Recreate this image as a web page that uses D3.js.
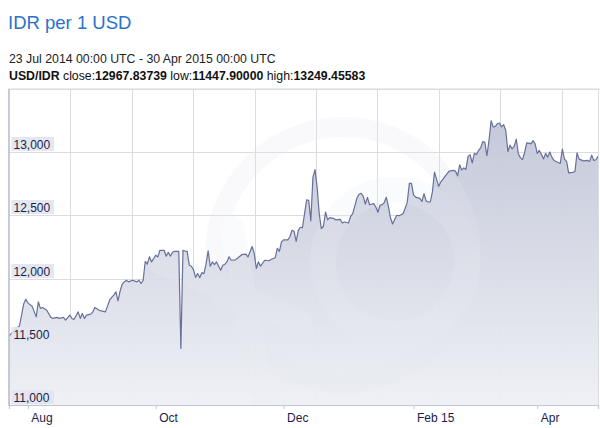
<!DOCTYPE html>
<html>
<head>
<meta charset="utf-8">
<script src="https://cdn.jsdelivr.net/npm/d3@7/dist/d3.min.js"></script>
<style>
  html, body { margin: 0; padding: 0; background: #fff; }
  svg { display: block; font-family: "Liberation Sans", Arial, Helvetica, sans-serif; }
</style>
</head>
<body>
<svg id="chart" width="600" height="428"></svg>
<script>
const dates = [
"2014-07-23","2014-07-26","2014-07-28","2014-07-29","2014-07-30","2014-07-31","2014-08-01","2014-08-03","2014-08-05","2014-08-06",
"2014-08-07","2014-08-08","2014-08-10","2014-08-12","2014-08-13","2014-08-15","2014-08-16","2014-08-18","2014-08-19","2014-08-21",
"2014-08-22","2014-08-23","2014-08-25","2014-08-26","2014-08-27","2014-08-28","2014-08-29","2014-08-31","2014-09-01","2014-09-02",
"2014-09-04","2014-09-05","2014-09-07","2014-09-08","2014-09-09","2014-09-10","2014-09-11","2014-09-12","2014-09-13","2014-09-14",
"2014-09-15","2014-09-16","2014-09-17","2014-09-18","2014-09-20","2014-09-22","2014-09-23","2014-09-24","2014-09-25","2014-09-26",
"2014-09-27","2014-09-28","2014-09-29","2014-10-01","2014-10-02","2014-10-03","2014-10-05","2014-10-06","2014-10-07","2014-10-08",
"2014-10-09","2014-10-10","2014-10-12","2014-10-13","2014-10-14","2014-10-15","2014-10-16","2014-10-17","2014-10-18","2014-10-19",
"2014-10-20","2014-10-21","2014-10-22","2014-10-23","2014-10-24","2014-10-25","2014-10-26","2014-10-27","2014-10-28","2014-10-29",
"2014-10-30","2014-11-01","2014-11-02","2014-11-03","2014-11-04","2014-11-05","2014-11-06","2014-11-08","2014-11-09","2014-11-11",
"2014-11-13","2014-11-14","2014-11-16","2014-11-17","2014-11-18","2014-11-19","2014-11-20","2014-11-22","2014-11-24","2014-11-25",
"2014-11-27","2014-11-28","2014-11-29","2014-11-30","2014-12-01","2014-12-03","2014-12-04","2014-12-05","2014-12-06","2014-12-07",
"2014-12-08","2014-12-09","2014-12-10","2014-12-11","2014-12-12","2014-12-13","2014-12-14","2014-12-15","2014-12-16","2014-12-17",
"2014-12-18","2014-12-19","2014-12-20","2014-12-21","2014-12-22","2014-12-23","2014-12-25","2014-12-26","2014-12-28","2014-12-29",
"2014-12-30","2015-01-01","2015-01-02","2015-01-03","2015-01-05","2015-01-06","2015-01-07","2015-01-08","2015-01-09","2015-01-10",
"2015-01-11","2015-01-13","2015-01-14","2015-01-15","2015-01-16","2015-01-17","2015-01-18","2015-01-19","2015-01-20","2015-01-21",
"2015-01-22","2015-01-23","2015-01-24","2015-01-25","2015-01-27","2015-01-28","2015-01-29","2015-01-30","2015-01-31","2015-02-01",
"2015-02-02","2015-02-04","2015-02-05","2015-02-06","2015-02-07","2015-02-08","2015-02-09","2015-02-10","2015-02-11","2015-02-12",
"2015-02-13","2015-02-14","2015-02-15","2015-02-16","2015-02-18","2015-02-20","2015-02-21","2015-02-22","2015-02-23","2015-02-24",
"2015-02-25","2015-02-26","2015-02-27","2015-02-28","2015-03-01","2015-03-02","2015-03-03","2015-03-04","2015-03-05","2015-03-06",
"2015-03-07","2015-03-08","2015-03-09","2015-03-10","2015-03-11","2015-03-12","2015-03-13","2015-03-14","2015-03-15","2015-03-16",
"2015-03-17","2015-03-18","2015-03-19","2015-03-20","2015-03-21","2015-03-22","2015-03-23","2015-03-24","2015-03-25","2015-03-26",
"2015-03-27","2015-03-28","2015-03-29","2015-03-30","2015-03-31","2015-04-01","2015-04-02","2015-04-03","2015-04-04","2015-04-05",
"2015-04-06","2015-04-07","2015-04-08","2015-04-09","2015-04-11","2015-04-12","2015-04-13","2015-04-14","2015-04-15","2015-04-16",
"2015-04-18","2015-04-19","2015-04-20","2015-04-21","2015-04-23","2015-04-25","2015-04-26","2015-04-27","2015-04-28","2015-04-29",
"2015-04-30"
];
const values = [
11545,11600,11625,11711,11800,11837,11808,11782,11697,11816,
11764,11772,11750,11693,11685,11693,11685,11693,11671,11711,
11685,11677,11737,11685,11724,11685,11711,11719,11737,11772,
11750,11745,11737,11782,11829,11851,11869,11895,11824,11900,
11955,11974,11987,11974,11987,11974,11987,11961,11987,12137,
12114,12173,12132,12185,12171,12224,12224,12177,12208,12177,
12208,12216,12216,11448,12224,12218,12215,12106,12098,12071,
12009,12040,12007,12047,12039,12114,12220,12098,12132,12110,
12132,12066,12106,12114,12134,12173,12145,12148,12161,12189,
12193,12171,12254,12198,12080,12132,12098,12145,12141,12151,
12165,12240,12216,12290,12307,12307,12331,12382,12374,12295,
12382,12406,12402,12514,12623,12619,12457,12803,12862,12724,
12514,12396,12412,12527,12465,12483,12475,12464,12469,12440,
12448,12440,12493,12514,12637,12667,12675,12651,12590,12643,
12584,12593,12566,12525,12580,12585,12600,12643,12572,12481,
12432,12467,12501,12497,12513,12556,12603,12754,12754,12663,
12645,12635,12610,12672,12615,12606,12606,12686,12843,12785,
12730,12765,12785,12809,12851,12856,12851,12813,12900,12860,
12876,12864,12967,12979,12916,12991,12981,13014,13034,13083,
13080,12972,13093,13249,13200,13204,13225,13231,13201,13218,
13172,13006,13056,13026,13046,13103,12988,12955,12943,12998,
13074,13072,13066,13091,13066,12991,13014,12983,12947,12991,
12961,13001,12961,12935,12919,12912,13024,12945,12927,12837,
12840,12847,12995,12945,12931,12935,12927,12977,12935,12940,
12968
];
const yTickValues = [11000, 11500, 12000, 12500, 13000];
const xTickDates = ["2014-08-01","2014-10-01","2014-12-01","2015-02-01","2015-04-01"];
const xTickLabels = ["Aug","Oct","Dec","Feb 15","Apr"];
const titleText = "IDR per 1 USD";
const rangeText = "23 Jul 2014 00:00 UTC - 30 Apr 2015 00:00 UTC";
const statsParts = [["USD/IDR", true], [" close:", false], ["12967.83739", true], [" low:", false], ["11447.90000", true], [" high:", false], ["13249.45583", true]];

const parse = d3.utcParse("%Y-%m-%d");
const data = dates.map((d, i) => ({ date: parse(d), value: values[i] }));

const svg = d3.select("#chart");
const L = 9, R = 598, T = 89, B = 405;

const x = d3.scaleUtc().domain([parse("2014-07-23"), parse("2015-04-30")]).range([L, R]);
const y = d3.scaleLinear().domain([11000, 13500]).range([B, T]);

// Header
svg.append("text").attr("x", 8).attr("y", 29).attr("font-size", 18.5).attr("fill", "#2a72c9").text(titleText);
svg.append("text").attr("x", 9).attr("y", 63).attr("font-size", 12.3).attr("fill", "#222").text(rangeText);
const st = svg.append("text").attr("x", 9).attr("y", 80).attr("font-size", 12.3).attr("fill", "#111");
statsParts.forEach(([t, b]) => st.append("tspan").attr("font-weight", b ? "bold" : "normal").text(t));

// defs
const defs = svg.append("defs");
const grad = defs.append("linearGradient").attr("id", "fillGrad")
  .attr("gradientUnits", "userSpaceOnUse").attr("x1", 0).attr("x2", 0).attr("y1", T).attr("y2", B);
grad.append("stop").attr("offset", "0%").attr("stop-color", "#bcc1d4");
grad.append("stop").attr("offset", "100%").attr("stop-color", "#eef0f5");
defs.append("clipPath").attr("id", "plotClip").append("rect").attr("x", L).attr("y", T).attr("width", R - L).attr("height", B - T);

// top separator
svg.append("line").attr("x1", 8).attr("x2", 600).attr("y1", T).attr("y2", T).attr("stroke", "#d8d8d8");

// grid
const g = svg.append("g");
yTickValues.concat([13500]).forEach(v => {
  g.append("line").attr("x1", L).attr("x2", R).attr("y1", Math.round(y(v)) + 0.5).attr("y2", Math.round(y(v)) + 0.5)
    .attr("stroke", "#dcdcdf").attr("stroke-width", 1);
});
const gridStep = 61.4;
for (let gx = L + gridStep; gx < R; gx += gridStep) {
  g.append("line").attr("x1", Math.round(gx) + 0.5).attr("x2", Math.round(gx) + 0.5).attr("y1", T).attr("y2", B)
    .attr("stroke", "#dcdcdf").attr("stroke-width", 1);
}

// area + line
const plot = svg.append("g").attr("clip-path", "url(#plotClip)");
const area = d3.area().x(d => x(d.date)).y0(B).y1(d => y(d.value)).curve(d3.curveLinear);
const line = d3.line().x(d => x(d.date)).y(d => y(d.value)).curve(d3.curveLinear);
plot.append("path").datum(data).attr("d", area).attr("fill", "url(#fillGrad)").attr("opacity", 0.95);

// watermark (xe logo, faint)
const wm = plot.append("g").attr("opacity", 0.22);
wm.append("circle").attr("cx", 343).attr("cy", 255).attr("r", 128).attr("fill", "none").attr("stroke", "#e6e8f0").attr("stroke-width", 20);
wm.append("line").attr("x1", 232).attr("y1", 228).attr("x2", 262).attr("y2", 395).attr("stroke", "#eceef4").attr("stroke-width", 24).attr("stroke-linecap", "round");
wm.append("line").attr("x1", 160).attr("y1", 262).attr("x2", 300).attr("y2", 322).attr("stroke", "#eceef4").attr("stroke-width", 24).attr("stroke-linecap", "round");
wm.append("circle").attr("cx", 395).attr("cy", 262).attr("r", 72).attr("fill", "none").attr("stroke", "#eceef4").attr("stroke-width", 26);

plot.append("path").datum(data).attr("d", line).attr("fill", "none").attr("stroke", "#66709a").attr("stroke-width", 1.2).attr("stroke-linejoin", "round");

// axes lines
svg.append("line").attr("x1", L).attr("x2", L).attr("y1", T).attr("y2", B + 1).attr("stroke", "#b5b9cc").attr("stroke-width", 1.5);
svg.append("line").attr("x1", R + 0.5).attr("x2", R + 0.5).attr("y1", T).attr("y2", B).attr("stroke", "#dcdcdf").attr("stroke-width", 1);

// x axis
const xAxis = d3.axisBottom(x).tickValues(xTickDates.map(parse)).tickSize(4).tickFormat((d, i) => xTickLabels[i]);
const xg = svg.append("g").attr("transform", `translate(0,${B})`).call(xAxis);
xg.select(".domain").attr("stroke", "#c3c6d4").attr("stroke-width", 1.2);
xg.selectAll(".tick line").attr("stroke", "#c3c6d4");
xg.selectAll(".tick text").attr("text-anchor", "start").attr("x", 3).attr("dy", 0).attr("y", 17)
  .attr("font-size", 12).attr("fill", "#1a1d4a").attr("font-family", "Liberation Sans, Arial, sans-serif");

// y labels with boxes
const fmt = d3.format(",");
const yl = svg.append("g");
yTickValues.forEach(v => {
  const yy = Math.round(y(v));
  yl.append("rect").attr("x", 11.5).attr("y", yy - 15).attr("width", 42.5).attr("height", 14).attr("fill", "#e2e4ee").attr("opacity", 0.9);
  yl.append("text").attr("x", 13.5).attr("y", yy - 3).attr("font-size", 12).attr("fill", "#1a1d4a").text(fmt(v));
});
</script>
</body>
</html>
